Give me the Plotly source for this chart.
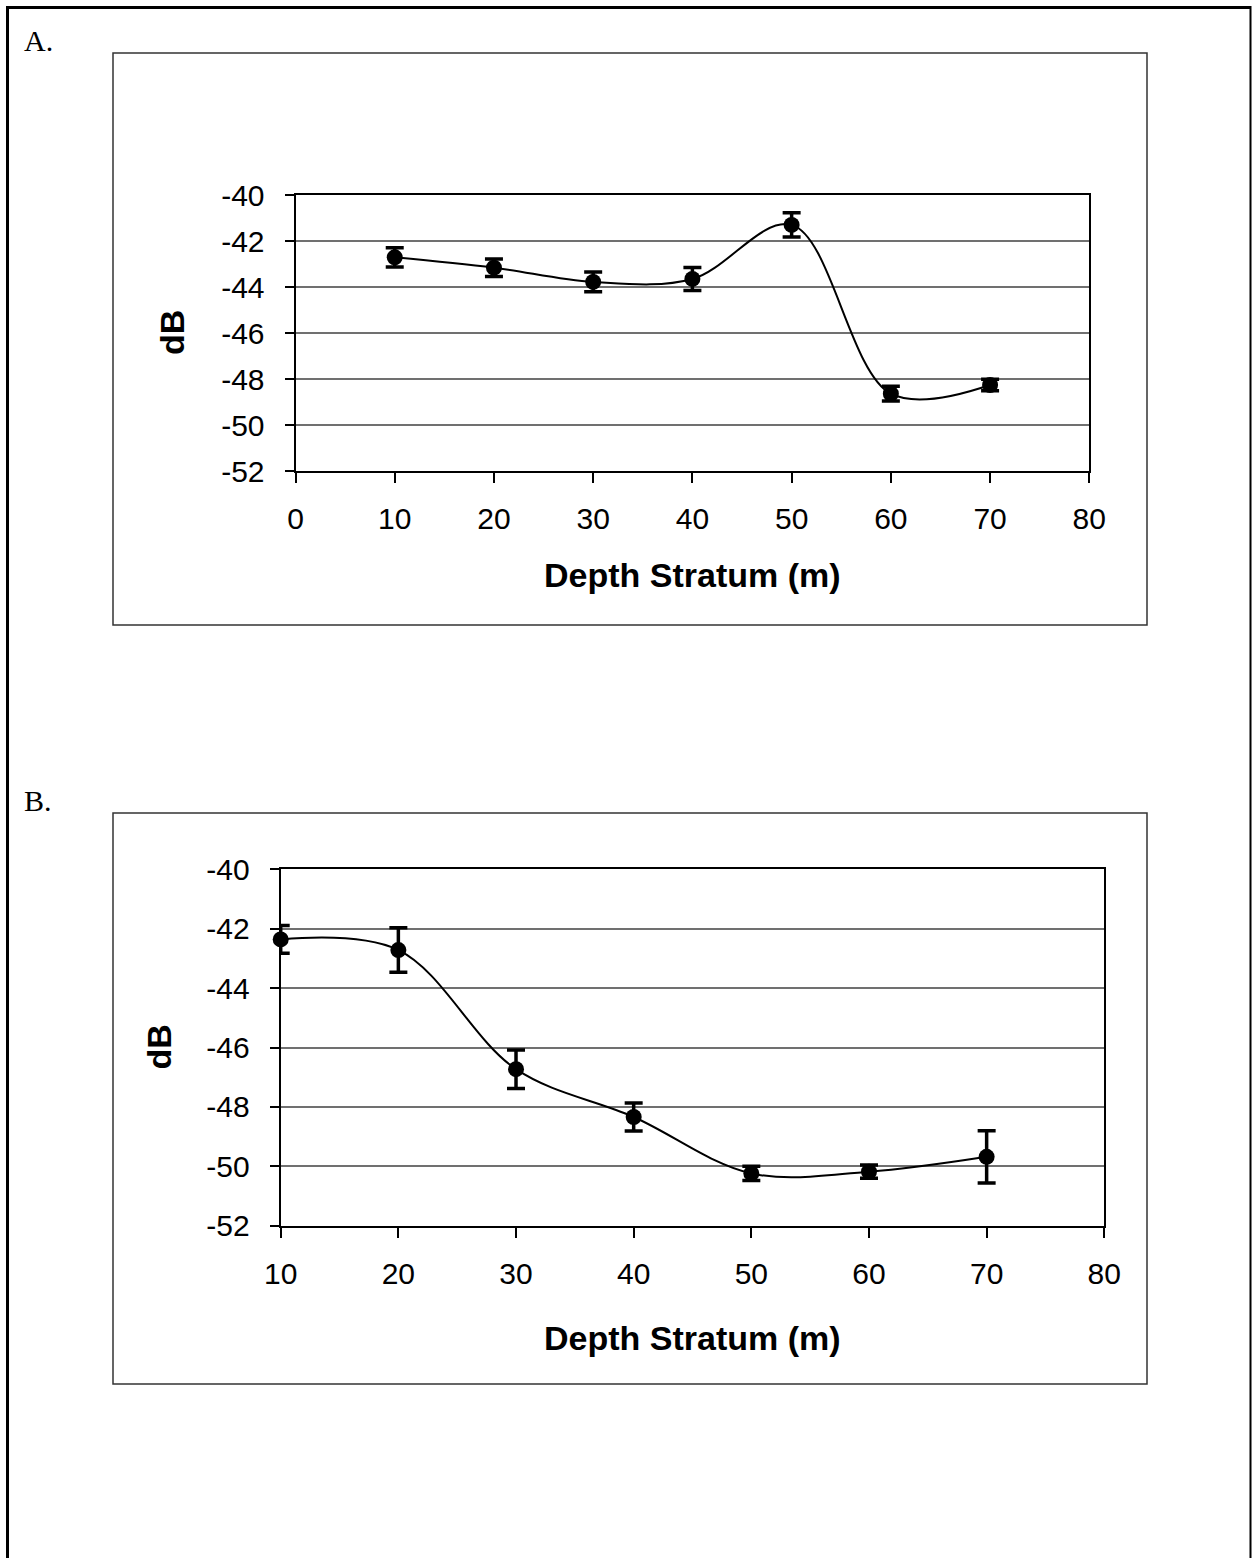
import plotly.graph_objects as go

# ---- data ----
depth = [10, 20, 30, 40, 50, 60, 70]
db_a = [-42.71, -43.16, -43.78, -43.65, -41.30, -48.64, -48.26]
err_a = [0.42, 0.38, 0.43, 0.50, 0.53, 0.32, 0.25]
db_b = [-42.36, -42.72, -46.73, -48.34, -50.24, -50.18, -49.68]
err_b = [0.47, 0.75, 0.65, 0.47, 0.24, 0.22, 0.88]

y_ticks = [-40, -42, -44, -46, -48, -50, -52]
y_tick_labels = ["-40", "-42", "-44", "-46", "-48", "-50", "-52"]
x_ticks_a = [0, 10, 20, 30, 40, 50, 60, 70, 80]
x_ticks_b = [10, 20, 30, 40, 50, 60, 70, 80]
x_title = "Depth Stratum (m)"
y_title = "dB"
panel_labels = ["A.", "B."]

W, H = 1252, 1558


def px(x):
    return x / W


def py(y):
    return 1 - y / H


fig = go.Figure()


def add_series(x, y, e, xa, ya):
    fig.add_trace(go.Scatter(
        x=x, y=y, xaxis=xa, yaxis=ya,
        mode="lines+markers",
        line=dict(color="black", width=2, shape="spline", smoothing=1.0),
        marker=dict(color="black", size=16),
        error_y=dict(type="data", array=e, visible=True, color="black",
                     thickness=3.5, width=9),
        cliponaxis=False,
        showlegend=False, hoverinfo="x+y",
    ))


add_series(depth, db_a, err_a, "x", "y")
add_series(depth, db_b, err_b, "x2", "y2")

tick_font = dict(family="Liberation Sans, Arial, sans-serif", size=30, color="black")

common_y = dict(
    range=[-52, -40], tickmode="array", tickvals=y_ticks, ticktext=y_tick_labels,
    showgrid=True, gridcolor="#707070", gridwidth=1.6,
    showline=True, linecolor="black", linewidth=2, mirror=True,
    ticks="outside", ticklen=9, tickwidth=1.5, tickcolor="black",
    tickfont=tick_font, ticklabelstandoff=14, zeroline=False, automargin=False,
)
common_x = dict(
    showgrid=False, showline=True, linecolor="black", linewidth=2, mirror=True,
    ticks="outside", ticklen=10, tickwidth=1.5, tickcolor="black",
    tickfont=tick_font, ticklabelstandoff=10, zeroline=False, automargin=False,
)

fig.update_layout(
    width=W, height=H,
    margin=dict(l=0, r=0, t=0, b=0, pad=0, autoexpand=False),
    paper_bgcolor="white", plot_bgcolor="white",
    xaxis=dict(domain=[px(295.5), px(1089.3)], range=[0, 80],
               tickmode="array", tickvals=x_ticks_a,
               ticktext=[str(v) for v in x_ticks_a], anchor="y", **common_x),
    yaxis=dict(domain=[py(471), py(195)], anchor="x", **common_y),
    xaxis2=dict(domain=[px(280.7), px(1104.3)], range=[10, 80],
                tickmode="array", tickvals=x_ticks_b,
                ticktext=[str(v) for v in x_ticks_b], anchor="y2", **common_x),
    yaxis2=dict(domain=[py(1225.7), py(869.3)], anchor="x2", **common_y),
)

# outer border and panel boxes
shapes = [
    dict(type="line", xref="paper", yref="paper", x0=px(7.5), x1=px(7.5),
         y0=py(6), y1=py(1560), line=dict(color="black", width=3)),
    dict(type="line", xref="paper", yref="paper", x0=px(6), x1=px(1251),
         y0=py(7.5), y1=py(7.5), line=dict(color="black", width=3)),
    dict(type="line", xref="paper", yref="paper", x0=px(1250.5), x1=px(1250.5),
         y0=py(6), y1=py(1560), line=dict(color="black", width=2)),
    dict(type="rect", xref="paper", yref="paper", x0=px(113), x1=px(1147),
         y0=py(625), y1=py(53), line=dict(color="#333333", width=1.5)),
    dict(type="rect", xref="paper", yref="paper", x0=px(113), x1=px(1147),
         y0=py(1384), y1=py(813), line=dict(color="#333333", width=1.5)),
]
fig.update_layout(shapes=shapes)

title_font = dict(family="Liberation Sans, Arial, sans-serif", size=34, color="black")
label_font = dict(family="Liberation Serif, Times New Roman, serif", size=30, color="black")

annotations = [
    dict(text=panel_labels[0], x=px(22), y=py(41), xanchor="left", yanchor="middle",
         font=label_font),
    dict(text=panel_labels[1], x=px(22), y=py(801), xanchor="left", yanchor="middle",
         font=label_font),
    dict(text="<b>%s</b>" % x_title, x=px(692), y=py(575), xanchor="center",
         yanchor="middle", font=title_font),
    dict(text="<b>%s</b>" % x_title, x=px(692.5), y=py(1338), xanchor="center",
         yanchor="middle", font=title_font),
    dict(text="<b>%s</b>" % y_title, x=px(172), y=py(333), xanchor="center",
         yanchor="middle", textangle=-90, font=title_font),
    dict(text="<b>%s</b>" % y_title, x=px(158), y=py(1047.5), xanchor="center",
         yanchor="middle", textangle=-90, font=title_font),
]
for a in annotations:
    a.update(xref="paper", yref="paper", showarrow=False)
fig.update_layout(annotations=annotations)

fig.write_html(
    "out.html",
    config={"displayModeBar": False},
    post_script="document.body.style.margin='0';document.body.style.padding='0';",
)
